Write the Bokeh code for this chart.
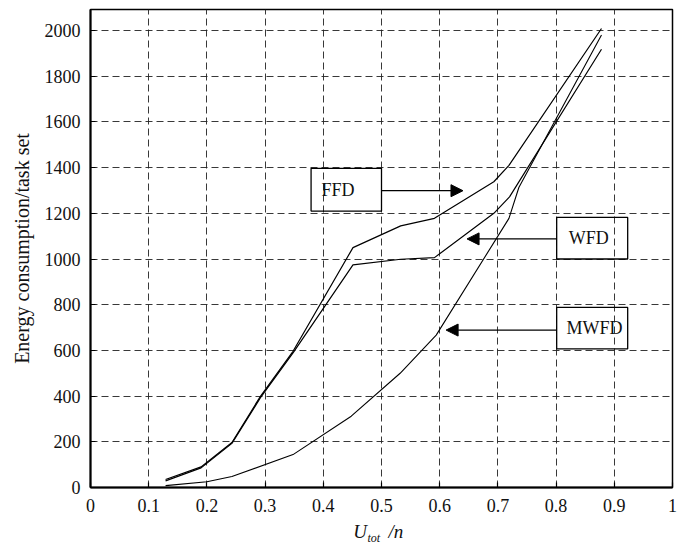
from bokeh.plotting import figure
from bokeh.layouts import column
from bokeh.models import (FixedTicker, Range1d, Label, Arrow, NormalHead, BoxAnnotation)
from bokeh.core.properties import value
from bokeh.embed import file_html
from bokeh.resources import INLINE

# ---- data ----
x_ticks = [0, 0.1, 0.2, 0.3, 0.4, 0.5, 0.6, 0.7, 0.8, 0.9, 1.0]
x_tick_labels = ["0", "0.1", "0.2", "0.3", "0.4", "0.5", "0.6", "0.7", "0.8", "0.9", "1"]
y_ticks = [0, 200, 400, 600, 800, 1000, 1200, 1400, 1600, 1800, 2000]

ffd_x = [0.129, 0.19, 0.243, 0.292, 0.348, 0.451, 0.533, 0.591, 0.693, 0.719, 0.878]
ffd_y = [35, 90, 197, 399, 596, 1050, 1145, 1178, 1338, 1410, 2009]
wfd_x = [0.129, 0.19, 0.243, 0.292, 0.348, 0.451, 0.533, 0.591, 0.693, 0.720, 0.878]
wfd_y = [29, 86, 193, 393, 589, 974, 999, 1006, 1200, 1272, 1918]
mwfd_x = [0.129, 0.2, 0.243, 0.348, 0.448, 0.532, 0.594, 0.719, 0.736, 0.878]
mwfd_y = [8, 25, 48, 144, 312, 500, 667, 1178, 1313, 1980]

labels = ["FFD", "WFD", "MWFD"]
x_title_parts = ["U", "tot", "/n"]

FONT = "Liberation Serif"
TXT = "#111111"

MAIN_H = 520
TITLE_H = 543 - MAIN_H

p = figure(width=683, height=MAIN_H, output_backend="svg", toolbar_location=None,
           x_range=Range1d(0, 1), y_range=Range1d(0, 2092),
           min_border_left=90, min_border_right=11, min_border_top=9,
           min_border_bottom=33)
p.background_fill_color = "white"
p.border_fill_color = "white"
p.outline_line_color = "black"
p.outline_line_width = 1.5

# axes
for ax in (p.xaxis[0], p.yaxis[0]):
    ax.major_tick_in = 5
    ax.major_tick_out = 0
    ax.minor_tick_in = 0
    ax.minor_tick_out = 0
    ax.axis_line_color = "black"
    ax.axis_line_width = 2
    ax.major_tick_line_color = "black"
    ax.major_tick_line_width = 1.2
    ax.major_label_text_font = FONT
    ax.major_label_text_font_size = "18px"
    ax.major_label_text_color = TXT
    ax.axis_label_text_font = FONT
    ax.axis_label_text_font_style = "normal"
    ax.axis_label_text_color = TXT

p.xaxis.ticker = FixedTicker(ticks=x_ticks)
p.xaxis.major_label_overrides = {t: l for t, l in zip(x_ticks, x_tick_labels)}
p.xaxis.major_label_standoff = 11
p.yaxis.ticker = FixedTicker(ticks=y_ticks)
p.yaxis.major_label_standoff = 10
p.yaxis.axis_label = "Energy consumption/task set"
p.yaxis.axis_label_text_font_size = "20px"
p.yaxis.axis_label_standoff = 9

# grid
p.xgrid.ticker = FixedTicker(ticks=x_ticks)
p.ygrid.ticker = FixedTicker(ticks=y_ticks)
for g in (p.xgrid[0], p.ygrid[0]):
    g.grid_line_color = "#222222"
    g.grid_line_dash = "7 4"
    g.grid_line_width = 0.9

# series
p.line(ffd_x, ffd_y, line_color="black", line_width=1.2)
p.line(wfd_x, wfd_y, line_color="black", line_width=1.2)
p.line(mwfd_x, mwfd_y, line_color="black", line_width=1.1)

# annotation boxes, texts and arrows
boxes = [(0.379, 0.500, 1210, 1397), (0.801, 0.923, 1000, 1182), (0.801, 0.923, 607, 788)]
text_pos = [(0.397, 1303, "left"), (0.856, 1091, "center"), (0.866, 697, "center")]
arrows = [(0.500, 1299, 0.640, 1299), (0.801, 1088, 0.647, 1088), (0.801, 689, 0.611, 689)]

for (l, r, b, t), (tx, ty, al), (x0, y0, x1, y1), name in zip(boxes, text_pos, arrows, labels):
    p.add_layout(BoxAnnotation(left=l, right=r, bottom=b, top=t, fill_alpha=0,
                               line_color="black", line_width=1.3, line_alpha=1))
    p.add_layout(Label(x=tx, y=ty, text=name, text_font=FONT, text_font_size="18px",
                       text_align=al, text_baseline="middle", text_color=TXT))
    p.add_layout(Arrow(x_start=x0, y_start=y0, x_end=x1, y_end=y1, line_color="black",
                       line_width=1.2,
                       end=NormalHead(size=12, fill_color="black", line_color="black")))

# ---- x-axis title strip: U_tot /n ----
t = figure(width=683, height=TITLE_H, output_backend="svg", toolbar_location=None,
           x_range=Range1d(0, 1), y_range=Range1d(0, TITLE_H),
           min_border_left=90, min_border_right=11, min_border_top=0,
           min_border_bottom=0)
t.axis.visible = False
t.grid.visible = False
t.outline_line_color = None
t.background_fill_color = "white"
t.border_fill_color = "white"

t.text(x=[0.475], y=[12], text=[x_title_parts[0]], text_font=value(FONT),
       text_font_size="19px", text_font_style="italic", text_align="right",
       text_baseline="middle", text_color=TXT)
t.text(x=[0.476], y=[6], text=[x_title_parts[1]], text_font=value(FONT),
       text_font_size="12px", text_font_style="italic", text_align="left",
       text_baseline="middle", text_color=TXT)
t.text(x=[0.512], y=[12], text=[x_title_parts[2]], text_font=value(FONT),
       text_font_size="19px", text_font_style="italic", text_align="left",
       text_baseline="middle", text_color=TXT)

layout = column(p, t, spacing=0)
open("out.html", "w").write(file_html(layout, INLINE))
